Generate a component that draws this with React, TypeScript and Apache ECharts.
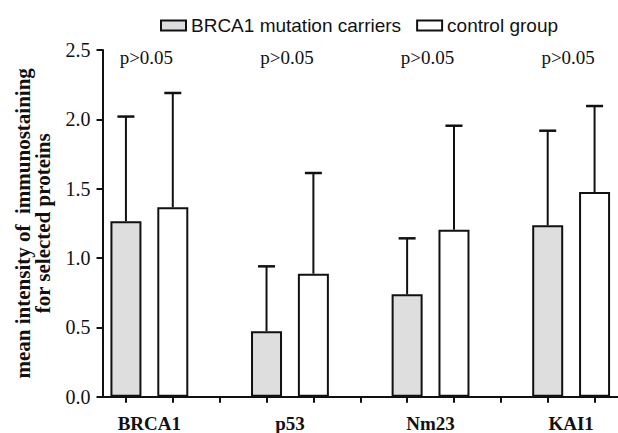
import React, { useEffect, useRef } from "react";
import * as echarts from "echarts";

const categories = ["BRCA1", "p53", "Nm23", "KAI1"];
const carrierMeans = [1.265, 0.472, 0.738, 1.236];
const carrierUpper = [2.02, 0.94, 1.142, 1.918];
const controlMeans = [1.366, 0.887, 1.204, 1.476];
const controlUpper = [2.19, 1.613, 1.954, 2.096];
const pLabels = ["p>0.05", "p>0.05", "p>0.05", "p>0.05"];

const SERIF = "Liberation Serif";
const SANS = "Liberation Sans";

export default function App() {
  const ref = useRef<HTMLDivElement>(null);
  useEffect(() => {
    if (!ref.current) return;
    const chart = echarts.init(ref.current, undefined, { renderer: "svg" });
    // positions: carriers at 1,4,7,10; controls at 2,5,8,11; gaps at 3,6,9
    const carrierPos = categories.map((_, i) => 1 + 3 * i);
    const controlPos = categories.map((_, i) => 2 + 3 * i);
    const groupPos = categories.map((_, i) => 1.5 + 3 * i);
    const tickPos: number[] = [];
    for (let i = 1; i <= 11; i++) tickPos.push(i);

    const errData = [
      ...carrierPos.map((x, i) => [x, carrierMeans[i], carrierUpper[i]]),
      ...controlPos.map((x, i) => [x, controlMeans[i], controlUpper[i]]),
    ];

    const option: any = {
      animation: false,
      backgroundColor: "#ffffff",
      grid: { left: 102.5, right: -8, top: 50, bottom: 36.3, containLabel: false },
      legend: {
        left: 155,
        top: 11,
        itemWidth: 25,
        itemHeight: 10,
        itemGap: 15,
        icon: "rect",
        textStyle: { fontFamily: SANS, fontSize: 19, color: "#111" },
        data: ["BRCA1 mutation carriers", "control group"],
      },
      xAxis: {
        type: "value",
        min: 0.5,
        max: 11.5,
        splitLine: { show: false },
        axisLine: { show: true, onZero: false, lineStyle: { color: "#111", width: 2 } },
        axisTick: { show: true, customValues: tickPos, length: 6, lineStyle: { color: "#111", width: 2 } },
        axisLabel: {
          customValues: groupPos,
          formatter: (v: number) => categories[Math.round((v - 1.5) / 3)] ?? "",
          fontFamily: SERIF,
          fontWeight: "bold",
          fontSize: 19,
          color: "#111",
          margin: 17,
        },
      },
      yAxis: {
        type: "value",
        min: 0,
        max: 2.5,
        interval: 0.5,
        splitLine: { show: false },
        axisLine: { show: true, lineStyle: { color: "#111", width: 2 } },
        axisTick: { show: true, length: 6, lineStyle: { color: "#111", width: 2 } },
        axisLabel: {
          formatter: (v: number) => v.toFixed(1),
          fontFamily: SERIF,
          fontSize: 20,
          color: "#111",
          margin: 12,
        },
        name: "mean intensity of  immunostaining\nfor selected proteins",
        nameLocation: "middle",
        nameGap: 50,
        nameTextStyle: { fontFamily: SERIF, fontWeight: "bold", fontSize: 21, lineHeight: 20, color: "#111" },
      },
      series: [
        {
          name: "BRCA1 mutation carriers",
          type: "bar",
          barWidth: 31,
          barGap: "-100%",
          data: carrierPos.map((x, i) => [x, carrierMeans[i]]),
          itemStyle: { color: "#dedede", borderColor: "#111", borderWidth: 2 },
        },
        {
          name: "control group",
          type: "bar",
          barWidth: 31,
          barGap: "-100%",
          data: controlPos.map((x, i) => [x, controlMeans[i]]),
          itemStyle: { color: "#ffffff", borderColor: "#111", borderWidth: 2 },
        },
        {
          name: "error",
          type: "custom",
          z: 3,
          clip: false,
          data: errData,
          renderItem: (params: any, api: any) => {
            const x = api.value(0);
            const base = api.coord([x, api.value(1)]);
            const top = api.coord([x, api.value(2)]);
            const cap = 8.5;
            return {
              type: "group",
              children: [
                { type: "line", shape: { x1: base[0], y1: base[1], x2: top[0], y2: top[1] }, style: { stroke: "#111", lineWidth: 2 } },
                { type: "line", shape: { x1: top[0] - cap, y1: top[1], x2: top[0] + cap, y2: top[1] }, style: { stroke: "#111", lineWidth: 2.5 } },
              ],
            };
          },
        },
        {
          name: "pvalues",
          type: "custom",
          z: 4,
          clip: false,
          data: groupPos.map((x, i) => [x, 2.5, i]),
          renderItem: (params: any, api: any) => {
            const p = api.coord([api.value(0), api.value(1)]);
            const idx = api.value(2);
            return {
              type: "text",
              x: p[0] - 3,
              y: p[1] + 7,
              style: {
                text: pLabels[idx],
                align: "center",
                verticalAlign: "middle",
                fontFamily: SERIF,
                fontSize: 19,
                fill: "#111",
              },
            };
          },
        },
      ],
    };
    chart.setOption(option);
    return () => chart.dispose();
  }, []);
  return <div ref={ref} style={{ position: "fixed", left: 0, top: 0, width: 618, height: 433, background: "#fff" }} />;
}
